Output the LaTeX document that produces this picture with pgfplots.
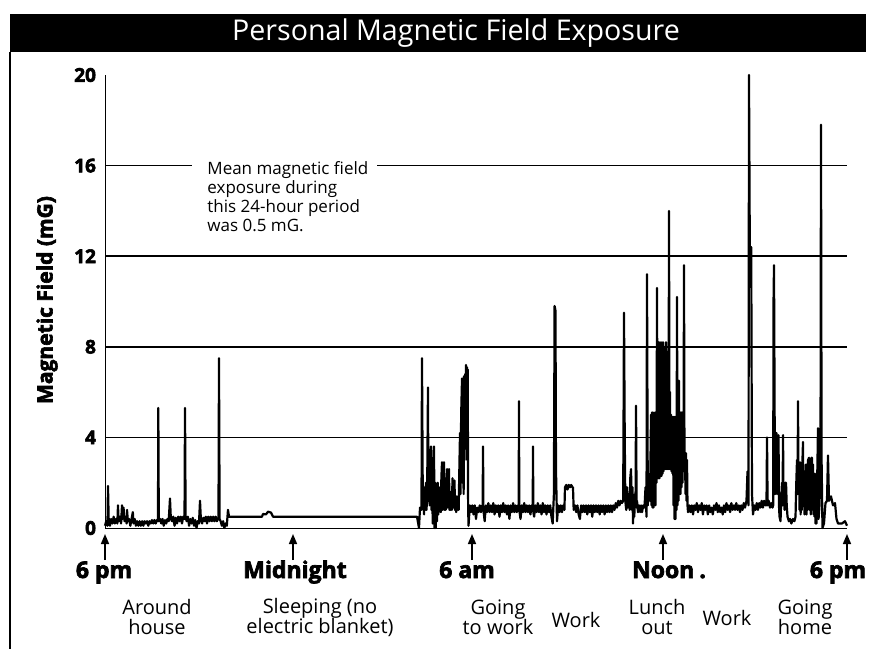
\documentclass[border=0pt]{standalone}
\usepackage{pgfplots}
\pgfplotsset{compat=1.18}
\usepackage{fontspec}
\setmainfont{Open Sans}
\newfontfamily\heavy{Open Sans}[BoldFeatures={FakeBold=3}]
\usetikzlibrary{arrows.meta}
\pgfplotstableread{
h v
0.000 0.1
0.040 0.3
0.080 0.1
0.097 1.85
0.120 0.3
0.160 0.1
0.200 0.4
0.240 0.2
0.280 0.5
0.320 0.2
0.360 0.4
0.400 0.2
0.420 1.0
0.440 0.3
0.480 0.5
0.520 0.2
0.550 1.0
0.570 0.4
0.600 0.9
0.630 0.3
0.660 0.5
0.700 0.2
0.712 0.8
0.740 0.3
0.780 0.4
0.820 0.1
0.860 0.4
0.900 0.7
0.920 0.2
0.960 0.4
1.000 0.1
1.040 0.3
1.080 0.1
1.120 0.3
1.160 0.1
1.200 0.3
1.240 0.1
1.280 0.3
1.320 0.2
1.360 0.3
1.400 0.1
1.440 0.3
1.480 0.2
1.520 0.35
1.560 0.2
1.600 0.35
1.640 0.2
1.680 0.35
1.714 0.3
1.724 5.3
1.740 0.3
1.780 0.4
1.820 0.2
1.860 0.4
1.900 0.1
1.940 0.35
1.980 0.2
2.020 0.4
2.060 0.3
2.102 1.3
2.130 0.4
2.170 0.3
2.210 0.5
2.250 0.1
2.290 0.45
2.330 0.2
2.370 0.5
2.410 0.3
2.450 0.5
2.490 0.2
2.530 0.5
2.572 0.4
2.588 5.3
2.607 0.5
2.640 0.3
2.680 0.5
2.720 0.1
2.760 0.4
2.800 0.2
2.840 0.45
2.880 0.1
2.920 0.35
2.960 0.0
3.000 0.3
3.040 0.2
3.073 1.2
3.100 0.4
3.140 0.2
3.180 0.45
3.220 0.3
3.260 0.5
3.300 0.2
3.340 0.5
3.380 0.3
3.420 0.5
3.460 0.3
3.500 0.5
3.540 0.3
3.580 0.5
3.620 0.3
3.671 0.45
3.687 7.5
3.707 0.4
3.740 0.3
3.780 0.1
3.820 0.3
3.860 0.0
3.900 0.2
3.940 0.1
3.978 0.8
4.011 0.5
4.108 0.5
5.078 0.5
5.111 0.62
5.208 0.6
5.272 0.72
5.369 0.68
5.434 0.5
10.092 0.5
10.156 0.0
10.189 0.9
10.237 0.8
10.253 7.5
10.280 1.0
10.300 1.7
10.320 0.6
10.340 1.8
10.360 0.8
10.380 2.0
10.400 0.8
10.420 1.6
10.447 6.2
10.460 1.2
10.480 2.8
10.500 1.0
10.520 3.0
10.544 3.6
10.560 0.8
10.580 2.4
10.600 0.2
10.620 2.8
10.641 3.6
10.660 0.0
10.680 2.0
10.700 0.0
10.720 1.8
10.740 0.3
10.760 2.0
10.780 0.6
10.800 1.8
10.820 0.8
10.840 1.6
10.860 0.7
10.880 2.2
10.900 2.9
10.920 0.8
10.940 2.0
10.965 2.9
10.980 0.8
11.000 1.6
11.020 0.8
11.040 1.8
11.062 2.6
11.080 0.9
11.100 2.0
11.127 2.6
11.140 0.8
11.160 1.5
11.180 0.8
11.200 1.6
11.220 0.8
11.240 2.2
11.260 0.9
11.280 1.8
11.305 2.1
11.320 0.8
11.340 1.4
11.360 0.7
11.380 1.4
11.400 0.8
11.420 1.3
11.440 0.8
11.460 2.5
11.483 4.2
11.500 1.5
11.520 5.0
11.548 6.6
11.560 2.0
11.580 6.0
11.600 1.5
11.613 6.7
11.630 3.0
11.650 6.8
11.660 3.5
11.677 7.2
11.690 4.0
11.710 7.1
11.720 3.0
11.732 7.0
11.745 1.0
11.758 0.1
11.800 1.0
11.840 0.7
11.880 1.0
11.920 0.6
11.960 1.0
12.000 0.4
12.040 0.9
12.080 0.7
12.120 1.0
12.160 0.7
12.200 1.0
12.215 0.9
12.227 3.6
12.240 0.8
12.280 0.3
12.320 1.0
12.360 0.7
12.400 1.1
12.440 0.7
12.480 1.0
12.520 0.7
12.560 1.1
12.600 0.6
12.640 1.0
12.680 0.7
12.720 1.0
12.760 0.5
12.800 1.0
12.840 0.7
12.880 1.1
12.920 0.7
12.960 1.0
13.000 0.6
13.040 1.0
13.080 0.4
13.120 1.0
13.160 0.7
13.200 1.1
13.240 0.7
13.280 1.0
13.320 0.7
13.360 1.0
13.380 0.9
13.391 5.6
13.400 0.8
13.440 0.4
13.480 1.0
13.520 0.7
13.560 1.1
13.600 0.7
13.640 1.0
13.680 0.7
13.720 1.0
13.760 0.6
13.800 1.0
13.835 0.9
13.843 3.6
13.855 0.7
13.880 0.5
13.920 1.0
13.960 0.7
14.000 1.1
14.040 0.7
14.080 1.0
14.120 0.6
14.160 1.1
14.200 0.7
14.240 1.0
14.280 0.6
14.320 1.0
14.360 0.7
14.400 1.0
14.440 0.5
14.480 0.2
14.520 1.5
14.542 9.8
14.571 9.6
14.587 2.6
14.620 0.3
14.660 1.0
14.700 0.7
14.740 1.0
14.780 0.7
14.820 1.0
14.860 0.8
14.878 1.8
14.920 1.9
14.960 1.7
15.000 1.9
15.040 1.8
15.080 1.9
15.120 1.8
15.137 1.8
15.160 0.8
15.200 1.0
15.240 0.7
15.280 1.0
15.320 0.6
15.360 0.4
15.400 1.0
15.440 0.7
15.480 1.0
15.520 0.7
15.560 1.0
15.600 0.6
15.640 1.0
15.680 0.7
15.720 1.0
15.760 0.5
15.800 1.0
15.840 0.7
15.880 1.0
15.920 0.7
15.960 1.0
16.000 0.6
16.040 1.0
16.080 0.7
16.120 1.0
16.160 0.6
16.200 1.0
16.240 0.7
16.280 1.0
16.320 0.7
16.360 1.0
16.400 0.7
16.440 1.0
16.480 0.8
16.520 1.1
16.560 0.9
16.600 1.2
16.640 1.0
16.680 1.2
16.720 1.1
16.760 1.2
16.771 4.2
16.787 9.5
16.810 4.2
16.829 1.2
16.860 0.8
16.884 1.8
16.910 0.9
16.949 1.5
16.970 0.8
16.990 2.2
17.014 2.6
17.040 0.8
17.060 1.8
17.079 0.2
17.100 1.2
17.120 0.5
17.143 1.5
17.160 1.0
17.176 5.4
17.195 0.9
17.208 1.2
17.240 0.7
17.273 1.0
17.310 0.7
17.340 1.0
17.370 0.7
17.410 1.0
17.450 0.9
17.483 1.8
17.515 0.5
17.531 11.2
17.557 1.0
17.580 1.8
17.596 2.1
17.629 1.2
17.661 5.0
17.677 1.0
17.693 5.1
17.709 0.9
17.726 5.1
17.742 0.9
17.758 5.0
17.774 1.0
17.790 5.1
17.806 1.0
17.822 5.1
17.838 2.0
17.855 10.6
17.871 2.2
17.887 7.6
17.903 2.2
17.919 8.2
17.935 2.2
17.952 7.4
17.968 2.3
17.984 8.2
18.000 2.3
18.017 7.7
18.033 2.4
18.049 8.2
18.065 2.5
18.081 7.5
18.097 2.6
18.114 8.0
18.130 2.6
18.146 8.2
18.162 2.6
18.178 7.6
18.194 2.6
18.211 7.8
18.227 2.6
18.243 14.0
18.259 2.6
18.275 6.0
18.291 2.6
18.308 5.0
18.324 2.5
18.340 4.9
18.356 2.4
18.372 4.9
18.389 1.0
18.405 4.9
18.421 0.4
18.437 4.9
18.453 0.4
18.469 4.8
18.486 0.8
18.502 10.2
18.518 1.0
18.534 6.5
18.550 1.2
18.566 6.5
18.583 1.5
18.599 5.1
18.615 1.5
18.631 5.1
18.647 1.8
18.663 5.1
18.680 2.0
18.696 5.1
18.712 2.5
18.728 11.6
18.744 2.5
18.760 3.3
18.777 1.5
18.793 3.3
18.809 1.2
18.825 3.0
18.841 1.0
18.858 0.7
18.900 1.0
18.940 0.7
18.980 1.0
19.020 0.6
19.060 1.0
19.100 0.8
19.140 1.1
19.180 0.7
19.220 1.0
19.260 0.8
19.300 1.1
19.340 0.6
19.380 1.0
19.420 0.8
19.460 1.0
19.500 0.6
19.540 1.0
19.580 0.7
19.620 0.9
19.660 0.6
19.700 1.0
19.740 0.8
19.780 1.1
19.820 0.7
19.860 1.0
19.900 0.7
19.940 0.9
19.980 0.6
20.020 1.0
20.060 0.7
20.100 1.1
20.140 0.8
20.180 1.0
20.220 0.7
20.260 1.1
20.300 0.8
20.340 1.0
20.380 0.8
20.420 1.1
20.460 0.8
20.500 1.0
20.540 0.7
20.580 1.0
20.620 0.8
20.660 1.1
20.700 0.9
20.749 1.2
20.782 2.5
20.814 1.0
20.830 20.0
20.856 12.4
20.879 12.3
20.902 12.4
20.927 1.5
20.960 0.6
21.000 1.0
21.040 0.8
21.080 1.1
21.120 0.8
21.160 1.1
21.200 0.9
21.240 1.2
21.280 0.9
21.320 1.2
21.360 1.0
21.396 1.0
21.413 4.0
21.432 1.0
21.470 1.2
21.510 0.9
21.550 1.1
21.590 0.9
21.613 1.0
21.623 9.9
21.639 11.6
21.662 4.2
21.675 1.5
21.688 3.5
21.700 1.8
21.720 4.2
21.735 1.5
21.753 3.0
21.770 2.0
21.785 4.1
21.800 1.0
21.817 0.5
21.850 0.3
21.870 1.2
21.898 2.0
21.915 1.0
21.931 4.1
21.945 1.5
21.963 2.0
21.980 0.8
22.000 2.0
22.028 2.0
22.050 1.0
22.076 0.5
22.120 0.3
22.157 0.4
22.200 0.2
22.254 0.4
22.300 0.3
22.335 0.5
22.360 2.0
22.383 3.0
22.400 1.5
22.416 5.6
22.430 1.5
22.448 2.9
22.465 0.8
22.481 2.9
22.500 0.6
22.520 2.5
22.540 0.8
22.560 3.0
22.577 3.8
22.590 1.0
22.610 2.0
22.626 0.6
22.640 2.5
22.660 1.0
22.674 2.8
22.690 0.6
22.710 2.8
22.723 0.8
22.740 3.0
22.771 3.1
22.790 0.8
22.810 3.0
22.830 0.6
22.850 3.1
22.868 3.1
22.885 0.8
22.900 2.8
22.917 0.6
22.930 2.4
22.950 0.5
22.965 2.4
22.980 0.2
23.000 1.5
23.014 0.2
23.040 2.5
23.062 4.4
23.080 0.4
23.110 1.0
23.143 3.0
23.159 17.8
23.178 3.0
23.207 0.0
23.256 0.2
23.304 1.1
23.353 1.2
23.385 3.2
23.418 1.2
23.482 1.4
23.547 1.0
23.612 1.1
23.660 0.4
23.709 0.2
23.838 0.2
23.935 0.3
24.000 0.1
}\fielddata
\begin{document}
\begin{tikzpicture}[x=1pt,y=1pt]
\path[use as bounding box] (0,0) rectangle (436.5,324.5);
\fill[black] (5,298.5) rectangle (433,317.5);
\node[white, font=\fontsize{14.3}{16}\selectfont] at (228,308) {Personal Magnetic Field Exposure};
\draw[line width=0.75pt] (5,298.5) -- (5,0);
\begin{axis}[
  at={(52.5pt,60.5pt)}, anchor=origin, scale only axis,
  width=371pt, height=226.5pt,
  xmin=0, xmax=24, ymin=0, ymax=20,
  axis lines*=left,
  axis line style={line width=0.5pt},
  xtick=\empty,
  ytick={0,4,...,20},
  major tick length=0pt,
  /pgf/number format/assume math mode=true,
  yticklabel style={font=\heavy\bfseries\fontsize{9.5}{10}\selectfont, xshift=-1pt},
  clip=false,
]
\draw[line width=0.8pt] (axis cs:0,4) -- (axis cs:24,4);
\draw[line width=0.8pt] (axis cs:0,8) -- (axis cs:24,8);
\draw[line width=0.8pt] (axis cs:0,12) -- (axis cs:24,12);
\draw[line width=0.8pt] (axis cs:0,16) -- (axis cs:2.814,16);
\draw[line width=0.8pt] (axis cs:8.798,16) -- (axis cs:24,16);
\addplot[black, line width=1.1pt, line join=round, mark=none] table[x=h, y=v] {\fielddata};
\end{axis}
\node[anchor=north west, inner sep=0pt, align=left, font=\fontsize{8.5}{9.5}\selectfont] at (103.5,244) {Mean magnetic field\\exposure during\\this 24-hour period\\was 0.5 mG.};
\node[rotate=90, font=\heavy\bfseries\fontsize{10.5}{12}\selectfont] at (23.5,174.5) {Magnetic Field (mG)};
\foreach \xa in {52.5,146.5,236,331.5,423.5}
  \draw[line width=0.8pt, -{Triangle[width=4pt,length=5pt]}] (\xa,44.5) -- (\xa,57.5);
\begin{scope}[every node/.style={font=\heavy\bfseries\fontsize{11.5}{12}\selectfont, inner sep=0pt, anchor=base}]
\node at (52,35.5) {6 pm};
\node at (147.5,35.5) {Midnight};
\node at (233.5,35.5) {6 am};
\node at (334.5,35.5) {Noon\hspace{2.5pt}.};
\node at (419,35.5) {6 pm};
\end{scope}
\begin{scope}[every node/.style={font=\fontsize{10}{10}\selectfont, align=center, inner sep=0pt}]
\node at (78.5,16) {Around\\house};
\node at (160,16) {Sleeping (no\\electric blanket)};
\node at (249,16) {Going\\to work};
\node at (288,14.5) {Work};
\node at (328.5,16) {Lunch\\out};
\node at (363.5,15.5) {Work};
\node at (402.5,16) {Going\\home};
\end{scope}
\end{tikzpicture}
\end{document}
